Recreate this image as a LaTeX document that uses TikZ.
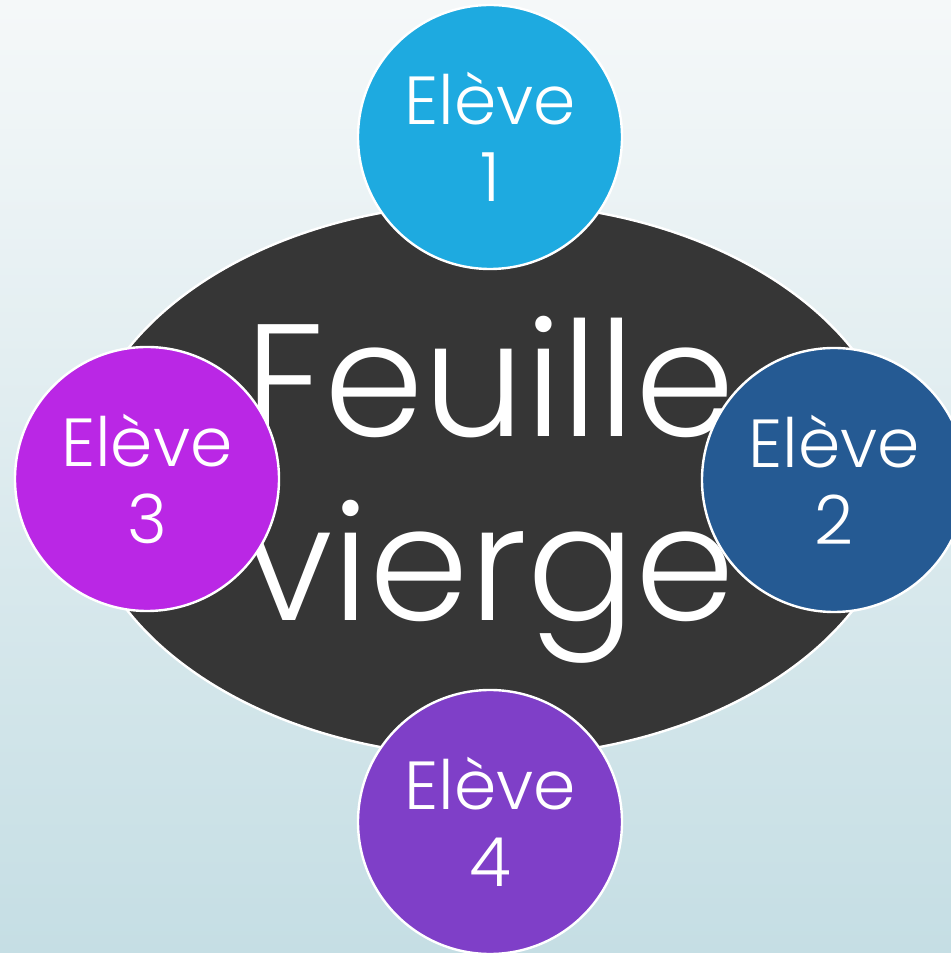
\documentclass[tikz,border=0pt]{standalone}
\usepackage{fontspec}
\newfontfamily\gothic[UprightFont={* Light}]{Poppins}
\usetikzlibrary{shapes.geometric,positioning}
\definecolor{bgtop}{HTML}{F5F8F9}
\definecolor{bgbot}{HTML}{C5DEE4}
\definecolor{sheet}{HTML}{363636}
\definecolor{eleveA}{HTML}{1EAAE0}
\definecolor{eleveB}{HTML}{255A93}
\definecolor{eleveC}{HTML}{BA27E5}
\definecolor{eleveD}{HTML}{7F3FC8}

\begin{document}
\begin{tikzpicture}[x = 0.5pt, y = 0.5pt,
  eleve/.style = {circle, draw = white, line width = 1.2pt, minimum size = 132pt,
    inner sep = 0pt, text = white, align = center,
    font = \gothic\fontsize{34}{38.5}\selectfont}]
  \useasboundingbox (0,0) rectangle (951,953);
  \clip (0,0) rectangle (951,953);
  \shade[top color = bgtop, bottom color = bgbot] (0,0) rectangle (951,953);
  % the blank sheet
  \node[ellipse, fill = sheet, draw = white, line width = 1.2pt, minimum width = 411pt,
    minimum height = 277pt, inner sep = 0pt] (feuille) at (490,473) {};
  \node[text = white, align = center, font = \gothic\fontsize{80}{92}\selectfont]
    (titre) at (490,463) {Feuille\\vierge};
  % students
  \node[eleve, fill = eleveA] (e1) at (490,816) {Elève\\1};
  \node[eleve, fill = eleveB] (e2) at (834,473) {Elève\\2};
  \node[eleve, fill = eleveC] (e3) at (147,474) {Elève\\3};
  \node[eleve, fill = eleveD] (e4) at (490,131) {Elève\\4};
\end{tikzpicture}
\end{document}
